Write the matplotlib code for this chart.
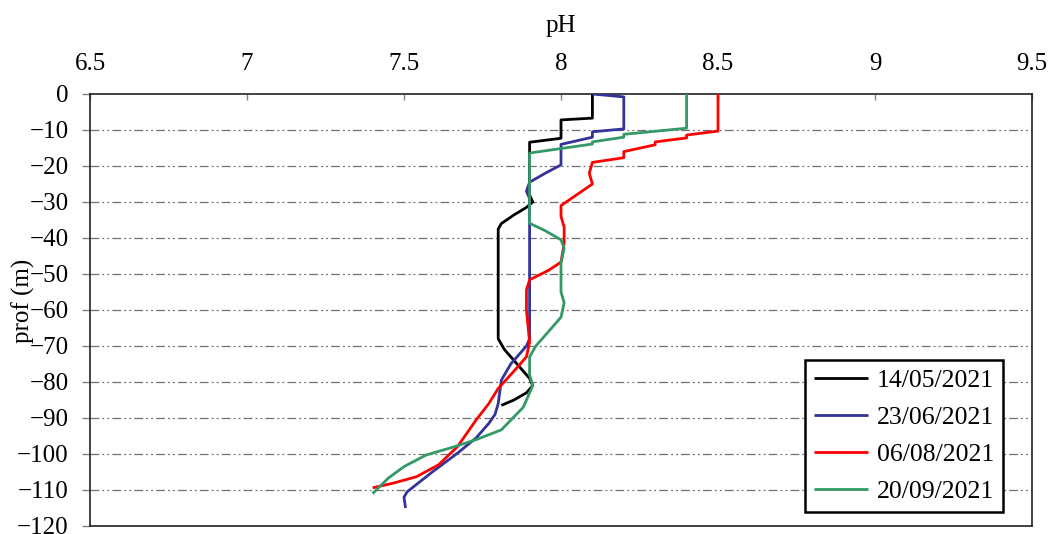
import matplotlib
matplotlib.use("Agg")
import matplotlib.pyplot as plt

plt.rcParams['font.family'] = ['Liberation Serif', 'DejaVu Serif']

labels = ["14/05/2021", "23/06/2021", "06/08/2021", "20/09/2021"]
colors = ["#000000", "#333399", "#ff0000", "#339966"]

depth_0514 = [0, -6.7, -7.2, -12.3, -13.4, -28, -30, -31.5, -33.6, -36, -37.5, -40, -66, -68, -71, -75, -79, -81, -83, -85, -86.5]
ph_0514 = [8.1, 8.1, 8.0, 8.0, 7.9, 7.9, 7.91, 7.89, 7.85, 7.81, 7.8, 7.8, 7.8, 7.8, 7.82, 7.86, 7.9, 7.91, 7.89, 7.85, 7.81]

depth_0623 = [0, -0.8, -9.7, -10.5, -12, -14, -19.7, -22, -24.5, -27, -29, -68, -70, -75, -79.5, -86, -89, -91.5, -95.5, -99.8, -105, -110.5, -112, -115]
ph_0623 = [8.1, 8.2, 8.2, 8.1, 8.1, 8.0, 8.0, 7.95, 7.9, 7.89, 7.9, 7.9, 7.89, 7.84, 7.81, 7.8, 7.79, 7.77, 7.73, 7.67, 7.59, 7.51, 7.5, 7.505]

depth_0806 = [0, -10.3, -11.4, -12.2, -13.3, -14.1, -16, -17.7, -19, -22, -25, -28, -31, -34, -37, -41.5, -46.7, -49, -51.6, -54.4, -60, -69, -73, -77, -81.8, -86, -90.5, -98, -103, -106.3, -108, -109.4]
ph_0806 = [8.5, 8.5, 8.4, 8.4, 8.3, 8.3, 8.2, 8.2, 8.1, 8.09, 8.1, 8.05, 8.0, 8.0, 8.01, 8.01, 8.0, 7.96, 7.9, 7.89, 7.89, 7.9, 7.89, 7.85, 7.8, 7.77, 7.73, 7.67, 7.61, 7.54, 7.47, 7.4]

depth_0920 = [0, -9.5, -11.2, -12, -13.3, -13.9, -16.4, -35.9, -38, -40.5, -42.8, -47, -55, -58, -62, -64, -67, -70, -73, -78, -81, -87, -93.3, -96, -98, -100.3, -103.5, -106.7, -111]
ph_0920 = [8.4, 8.4, 8.2, 8.2, 8.1, 8.1, 7.9, 7.9, 7.95, 8.0, 8.01, 8.0, 8.0, 8.01, 8.0, 7.98, 7.95, 7.92, 7.9, 7.9, 7.91, 7.88, 7.81, 7.73, 7.66, 7.57, 7.5, 7.45, 7.4]

series = [(ph_0514, depth_0514), (ph_0623, depth_0623), (ph_0806, depth_0806), (ph_0920, depth_0920)]

xticks = [6.5, 7, 7.5, 8, 8.5, 9, 9.5]
xtick_labels = ["6.5", "7", "7.5", "8", "8.5", "9", "9.5"]
yticks = list(range(0, -121, -10))

fig = plt.figure(figsize=(10.52, 5.34), dpi=100)
ax = fig.add_axes([90/1052, 8/534, 942/1052, 432/534])

for (x, y), lab, c in zip(series, labels, colors):
    ax.plot(x, y, color=c, lw=2.0, label=lab, zorder=3,
            solid_joinstyle='round', solid_capstyle='butt')

ax.set_xlim(6.5, 9.5)
ax.set_ylim(-120, 0)
ax.set_xticks(xticks)
ax.set_xticklabels(xtick_labels)
ax.set_yticks(yticks)
ax.xaxis.tick_top()
ax.xaxis.set_label_position('top')
ax.tick_params(axis='x', direction='in', length=4.5, width=1, pad=14, labelsize=18, colors='#000000')
ax.tick_params(axis='x', color='#808080')
ax.tick_params(axis='y', direction='out', length=5.5, width=1, pad=10, labelsize=18, color='#808080')
ax.set_xlabel("pH", fontsize=18, labelpad=15)
ax.set_ylabel("prof (m)", fontsize=18)
ax.yaxis.set_label_coords(-0.058, 0.52)

for yv in yticks[1:-1]:
    ax.axhline(yv, color='#707070', lw=0.9, linestyle=(0, (7, 2.5, 1.5, 2.5, 1.5, 2.5)), zorder=1)

for s in ax.spines.values():
    s.set_color('#222222')
    s.set_linewidth(1.2)

leg = ax.legend(loc='lower right', bbox_to_anchor=(0.969, 0.032), fontsize=18.5,
                frameon=True, fancybox=False, edgecolor='#000000', framealpha=1,
                handlelength=2.1, borderpad=0.35, labelspacing=0.55, handletextpad=0.35,
                borderaxespad=0)
leg.get_frame().set_linewidth(1.8)

fig.savefig("out.png", dpi=100)
